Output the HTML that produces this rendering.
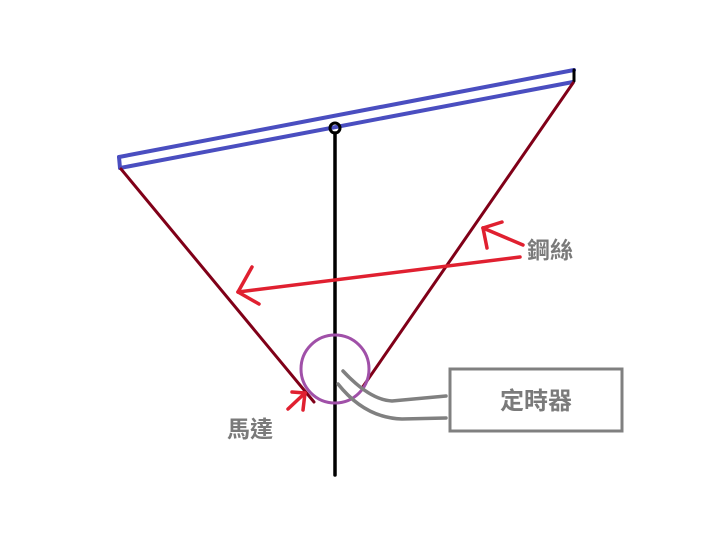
<!DOCTYPE html>
<html><head><meta charset="utf-8"><style>html,body{margin:0;padding:0;background:#fff}svg{display:block}</style></head>
<body>
<svg width="720" height="557" xmlns="http://www.w3.org/2000/svg">
<rect width="720" height="557" fill="#fff"/>
<g stroke-linecap="round" fill="none">
<line x1="119" y1="157" x2="574" y2="70" stroke="#4a4ec0" stroke-width="4"/>
<line x1="120" y1="168" x2="573" y2="82" stroke="#4a4ec0" stroke-width="4"/>
<line x1="119" y1="157" x2="120" y2="168" stroke="#4a4ec0" stroke-width="4"/>
<line x1="574" y1="70" x2="574" y2="81" stroke="#000" stroke-width="3"/>
<line x1="121" y1="169" x2="314" y2="402" stroke="#800018" stroke-width="3"/>
<line x1="573" y1="83" x2="362" y2="388" stroke="#800018" stroke-width="3"/>
<line x1="335" y1="133" x2="335" y2="475" stroke="#000" stroke-width="3.5"/>
<circle cx="335" cy="128" r="5" stroke="#000" stroke-width="3"/>
<circle cx="335" cy="369" r="34" stroke="#a050a8" stroke-width="3"/>
<path d="M343 371 Q370 400 392 401 L446 396" stroke="#808080" stroke-width="3.5"/>
<path d="M338 384 Q365 418 402 419 L446 418" stroke="#808080" stroke-width="3.5"/>
<rect x="450" y="369" width="172" height="62" stroke="#808080" stroke-width="3"/>
<g stroke="#e02030" stroke-width="3.5">
<line x1="520" y1="257" x2="238" y2="292"/>
<line x1="238" y1="292" x2="252" y2="267"/>
<line x1="238" y1="292" x2="259" y2="304"/>
<line x1="523" y1="245" x2="483" y2="228"/>
<line x1="483" y1="228" x2="487" y2="248"/>
<line x1="483" y1="228" x2="502" y2="222"/>
<line x1="288" y1="409" x2="305" y2="393"/>
<line x1="305" y1="393" x2="292" y2="392"/>
<line x1="305" y1="393" x2="303" y2="410"/>
</g>
</g>
<g font-family="'Liberation Sans','Noto Sans CJK TC',sans-serif" fill="#7a7a7a" font-size="23" font-weight="bold">
<text x="536" y="409" text-anchor="middle" font-size="24">定時器</text>
<text x="527" y="258">鋼絲</text>
<text x="227" y="437">馬達</text>
</g>
</svg>
</body></html>
